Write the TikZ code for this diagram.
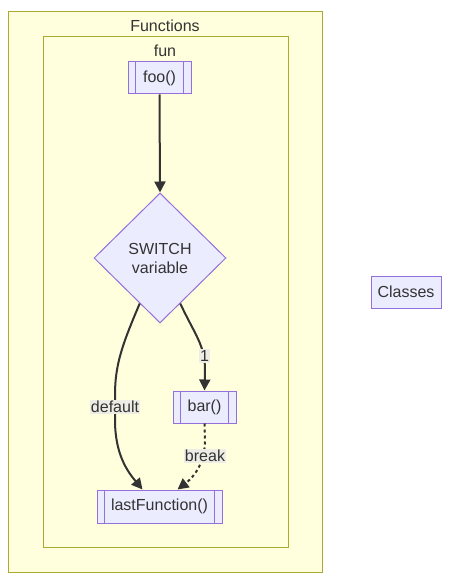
\documentclass[tikz,border=0pt]{standalone}
\usepackage{fontspec}
\setmainfont{Liberation Sans}
\usetikzlibrary{shapes.geometric,arrows.meta}
\definecolor{clfill}{HTML}{FFFFDE}
\definecolor{clline}{HTML}{AAAA33}
\definecolor{ndfill}{HTML}{ECECFF}
\definecolor{ndline}{HTML}{9370DB}
\definecolor{txt}{HTML}{333333}
\definecolor{lblfill}{HTML}{EDEDE6}
\begin{document}
\begin{tikzpicture}[x=1pt,y=-1pt,
 every node/.style={font=\fontsize{16}{19}\selectfont, text=txt},
 cluster/.style={draw=clline, fill=clfill, line width=1pt, inner sep=0, rectangle},
 box/.style={draw=ndline, fill=ndfill, line width=1pt, inner sep=0, rectangle},
 dia/.style={diamond, draw=ndline, fill=ndfill, line width=1pt, inner sep=0, minimum width=132pt, minimum height=130pt, align=center},
 lbl/.style={fill=lblfill, inner sep=1pt},
 edgeline/.style={draw=txt, line width=2pt, -{Triangle[length=11pt,width=11pt]}},
 subline/.style={draw=ndline, line width=1pt},
 ]
\useasboundingbox (0,0) rectangle (457,585);
\fill[white] (0,0) rectangle (457,585);
% clusters
\node[cluster, minimum width=314pt, minimum height=560pt] (functions) at (165,292) {};
\node (functionsT) at (165,26) {Functions};
\node[cluster, minimum width=245pt, minimum height=510pt] (fun) at (165.5,292) {};
\node (funT) at (165,51) {fun};
% nodes
\node[box, minimum width=63pt, minimum height=32pt] (foo) at (159.5,78) {foo()};
\node[dia] (sw) at (160,258) {SWITCH\\variable};
\node[box, minimum width=63pt, minimum height=32pt] (bar) at (204.5,407) {bar()};
\node[box, minimum width=125pt, minimum height=33pt] (last) at (159.5,506.5) {lastFunction()};
\node[box, minimum width=70pt, minimum height=32pt] (classes) at (406,292) {Classes};
% subroutine side bars
\foreach \n in {foo,bar,last}{
  \draw[subline] ([xshift=8pt]\n.north west) -- ([xshift=8pt]\n.south west);
  \draw[subline] ([xshift=-8pt]\n.north east) -- ([xshift=-8pt]\n.south east);
}
% edges
\draw[edgeline] (foo.south) -- (sw.north);
\draw[edgeline] (sw.246) .. controls (122,345) and (115,365) .. (115,395) -- (115,420)
   .. controls (115,455) and (128,472) .. ([xshift=-17pt]last.north);
\draw[edgeline] (sw.294) .. controls (195,335) and (205,345) .. (205,370) -- (bar.north);
\draw[edgeline, dash pattern=on 3pt off 3pt] (bar.south) -- (205,440)
   .. controls (205,462) and (195,476) .. ([xshift=18pt]last.north);
% edge labels
\node[lbl] (ldefault) at (115,407) {default};
\node[lbl] (lone) at (204.5,356) {1};
\node[lbl] (lbreak) at (205,456) {break};
\end{tikzpicture}
\end{document}
